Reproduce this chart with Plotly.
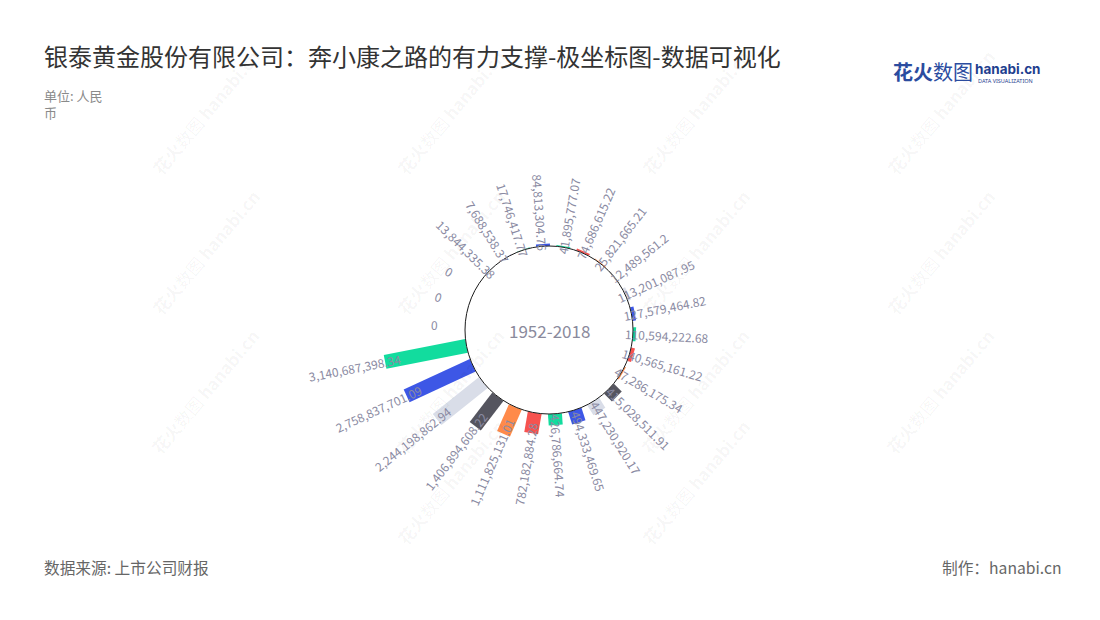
import math
import plotly.graph_objects as go

# ---------------- data ----------------
categories = [f"P{i + 1:02d}" for i in range(26)]
values = [84813304.76, 41895777.07, 74686615.22, 25821665.21, 12489561.2,
          113201087.95, 127579464.82, 110594222.68, 140565161.22, 47286175.34,
          415028511.91, 447230920.17, 494333469.65, 426786664.74, 782182884.28,
          1111825131.01, 1406894608.22, 2244198862.94, 2758837701.09,
          3140687398.34, 0, 0, 0, 13844335.38, 7688538.37, 17746417.77]
palette = ["#3d57e6", "#12dc9e", "#f6534f", "#ff8a4a", "#55555f", "#d9dde8"]

title_text = "银泰黄金股份有限公司：奔小康之路的有力支撑-极坐标图-数据可视化"
unit_text = "单位: 人民<br>币"
center_text = "1952-2018"
source_text = "数据来源: 上市公司财报"
maker_text = "制作：hanabi.cn"

# ---------------- layout constants ----------------
W, H = 1100, 620
CX, CY = 549, 330
R_PX = 168
HOLE_PX = 84
RMAX = 3.18e9
ROT = 94.05          # angle (ccw from east) of first category
STEP = 360 / len(categories)
LABEL_GAP = 31
LABEL_COLOR = "#8a8aa2"
FONT = "Noto Sans CJK SC, Noto Sans, sans-serif"


def paper(x, y):
    return x / W, 1 - y / H


fig = go.Figure()

# bars: thick radial segments, grouped by colour
for c, col in enumerate(palette):
    rr, tt = [], []
    for i, (cat, v) in enumerate(zip(categories, values)):
        if i % len(palette) == c:
            rr += [0, v, None]
            tt += [cat, cat, None]
    fig.add_trace(go.Scatterpolar(r=rr, theta=tt, mode="lines",
                                  line=dict(color=col, width=14),
                                  hoverinfo="skip", showlegend=False,
                                  connectgaps=False))

annotations = []

# watermarks
wm_pts = [(165, 160), (410, 160), (655, 160), (900, 160),
          (165, 300), (410, 300), (655, 300), (900, 300),
          (165, 440), (410, 440), (655, 440), (900, 440),
          (410, 530), (655, 530)]
for (wx, wy) in wm_pts:
    px, py = paper(wx + 40, wy - 48)
    annotations.append(dict(x=px, y=py, xref="paper", yref="paper",
                            text="<b>花火</b>数图 <b>hanabi.cn</b>",
                            showarrow=False, textangle=-50,
                            xanchor="center", yanchor="middle",
                            font=dict(family=FONT, size=17,
                                      color="rgba(0,0,0,0.045)")))

# value labels, rotated radially
for i, v in enumerate(values):
    theta = ((90 - ROT) + i * STEP) % 360  # clockwise from top
    r_end = HOLE_PX + (R_PX - HOLE_PX) * v / RMAX
    r_lab = r_end + LABEL_GAP
    x = CX + r_lab * math.sin(math.radians(theta))
    y = CY - r_lab * math.cos(math.radians(theta))
    ang = theta - 90 if theta < 180 else theta - 270
    px, py = paper(x, y)
    txt = f"{v:,}" if v != 0 else "0"
    annotations.append(dict(x=px, y=py, xref="paper", yref="paper",
                            text=txt, showarrow=False, textangle=ang,
                            xanchor="center", yanchor="middle",
                            font=dict(family=FONT, size=12, color=LABEL_COLOR)))

# center text
px, py = paper(CX, CY + 1)
annotations.append(dict(x=px, y=py, xref="paper", yref="paper", text=center_text,
                        showarrow=False, xanchor="center", yanchor="middle",
                        font=dict(family=FONT, size=17, color="#8a8a9c")))

# title / unit / footer
annotations += [
    dict(x=42 / W, y=1 - 55 / H, xref="paper", yref="paper", text=title_text,
         showarrow=False, xanchor="left", yanchor="middle",
         font=dict(family=FONT, size=24, color="#333333")),
    dict(x=42 / W, y=1 - 84 / H, xref="paper", yref="paper", text=unit_text,
         showarrow=False, xanchor="left", yanchor="top", align="left",
         font=dict(family=FONT, size=13, color="#8a8a8a")),
    dict(x=42 / W, y=1 - 567 / H, xref="paper", yref="paper", text=source_text,
         showarrow=False, xanchor="left", yanchor="middle",
         font=dict(family=FONT, size=15.7, color="#666666")),
    dict(x=1064 / W, y=1 - 567 / H, xref="paper", yref="paper", text=maker_text,
         showarrow=False, xanchor="right", yanchor="middle",
         font=dict(family=FONT, size=15.7, color="#666666")),
    # logo
    dict(x=891 / W, y=1 - 72 / H, xref="paper", yref="paper",
         text="<b>花火</b>数图", showarrow=False, xanchor="left", yanchor="middle",
         font=dict(family=FONT, size=20, color="#2b4c9f")),
    dict(x=973 / W, y=1 - 69 / H, xref="paper", yref="paper",
         text="<b>hanabi.cn</b>", showarrow=False, xanchor="left", yanchor="middle",
         font=dict(family="Inter, Noto Sans, sans-serif", size=13.5, color="#1f3f8f")),
    dict(x=976 / W, y=1 - 81 / H, xref="paper", yref="paper",
         text="DATA VISUALIZATION", showarrow=False, xanchor="left", yanchor="middle",
         font=dict(family="Noto Sans, sans-serif", size=5.5, color="#1f3f8f")),
]

x0, y0 = paper(CX - R_PX, CY + R_PX)
x1, y1 = paper(CX + R_PX, CY - R_PX)
hx0, hy0 = paper(CX - HOLE_PX, CY + HOLE_PX)
hx1, hy1 = paper(CX + HOLE_PX, CY - HOLE_PX)

fig.update_layout(
    width=W, height=H,
    margin=dict(l=0, r=0, t=0, b=0),
    paper_bgcolor="white", plot_bgcolor="white",
    showlegend=False,
    polar=dict(
        domain=dict(x=[x0, x1], y=[y0, y1]),
        hole=HOLE_PX / R_PX,
        bgcolor="rgba(0,0,0,0)",
        radialaxis=dict(range=[0, RMAX], visible=False),
        angularaxis=dict(type="category", categoryarray=categories,
                         direction="clockwise", rotation=ROT, visible=False),
    ),
    shapes=[dict(type="circle", xref="paper", yref="paper",
                 x0=hx0, x1=hx1, y0=hy0, y1=hy1,
                 line=dict(color="#1a1a1a", width=1), layer="above")],
    annotations=annotations,
)

fig.write_html("out.html", config={"displayModeBar": False},
               post_script="document.body.style.margin='0';")
